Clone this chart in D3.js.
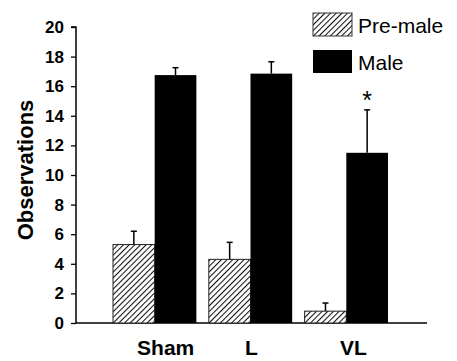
<!DOCTYPE html>
<html><head><meta charset="utf-8">
<script src="https://cdn.jsdelivr.net/npm/d3@7"></script>
<style>body{margin:0;background:#fff}svg{display:block}text{font-family:Arial,"Liberation Sans",sans-serif}</style>
</head><body>
<script>
const categories = ["Sham", "L", "VL"];
const seriesNames = ["Pre-male", "Male"];
const preMale = [5.3, 4.3, 0.8];
const preMaleErr = [0.9, 1.15, 0.55];
const male = [16.75, 16.85, 11.5];
const maleErr = [0.5, 0.8, 2.9];
const significance = ["", "", "*"];
const yTicks = [0, 2, 4, 6, 8, 10, 12, 14, 16, 18, 20];

const W = 457, H = 361;
const svg = d3.select("body").append("svg").attr("width", W).attr("height", H);

const defs = svg.append("defs");
const hs = 4;
const pat = defs.append("pattern").attr("id", "hatch").attr("patternUnits", "userSpaceOnUse")
  .attr("width", hs).attr("height", hs).attr("patternTransform", "rotate(45)");
pat.append("rect").attr("width", hs).attr("height", hs).attr("fill", "#fff");
pat.append("line").attr("x1", 0.5).attr("y1", 0).attr("x2", 0.5).attr("y2", hs)
  .attr("stroke", "#111").attr("stroke-width", 1.1);

const y = d3.scaleLinear().domain([0, 20]).range([323, 27]);
const x0 = d3.scaleBand().domain(categories).range([113, 388]).paddingInner(0.13).paddingOuter(0.0);
const x1 = d3.scaleBand().domain(seriesNames).range([0, x0.bandwidth()]);

// axes
const yAxis = d3.axisLeft(y).tickValues(yTicks).tickSize(5).tickPadding(7);
const gy = svg.append("g").attr("transform", "translate(76,0)").call(yAxis)
  .attr("font-size", null).attr("font-family", null);
gy.select(".domain").attr("stroke", "#000").attr("stroke-width", 1.5).attr("d", `M-5,${y(20)}H0V${y(0)}`);
gy.selectAll(".tick line").attr("stroke", "#000").attr("stroke-width", 1.3);
gy.selectAll(".tick text")
  .style("font-size", "17px").style("font-weight", "bold").style("fill", "#000")
  .style("font-family", "Arial, 'Liberation Sans', sans-serif");

// baseline
svg.append("line").attr("x1", 76).attr("x2", 427).attr("y1", y(0)).attr("y2", y(0))
  .attr("stroke", "#000").attr("stroke-width", 1.5);

const groups = svg.append("g").selectAll("g").data(categories).join("g")
  .attr("transform", d => `translate(${x0(d)},0)`);

const seriesData = [
  {name: "Pre-male", vals: preMale, errs: preMaleErr},
  {name: "Male", vals: male, errs: maleErr}
];

seriesData.forEach(s => {
  groups.append("rect")
    .attr("x", x1(s.name))
    .attr("width", x1.bandwidth())
    .attr("y", (d, i) => y(s.vals[i]))
    .attr("height", (d, i) => y(0) - y(s.vals[i]))
    .attr("fill", s.name === "Male" ? "#000" : "url(#hatch)")
    .attr("stroke", s.name === "Male" ? "none" : "#222")
    .attr("stroke-width", 1);
  const cx = x1(s.name) + x1.bandwidth() / 2;
  groups.append("line")
    .attr("x1", cx).attr("x2", cx)
    .attr("y1", (d, i) => y(s.vals[i]))
    .attr("y2", (d, i) => y(s.vals[i] + s.errs[i]))
    .attr("stroke", "#000").attr("stroke-width", 1.5);
  groups.append("line")
    .attr("x1", cx - 3).attr("x2", cx + 3)
    .attr("y1", (d, i) => y(s.vals[i] + s.errs[i]))
    .attr("y2", (d, i) => y(s.vals[i] + s.errs[i]))
    .attr("stroke", "#000").attr("stroke-width", 1.5);
});

// significance
groups.append("text")
  .attr("x", x1("Male") + x1.bandwidth() / 2)
  .attr("y", (d, i) => y(male[i] + maleErr[i]) - 1)
  .attr("text-anchor", "middle").attr("font-size", 25).attr("fill", "#000")
  .text((d, i) => significance[i]);

// x labels (small per-label nudges to match the original typesetting)
const labelNudge = [11, 1, 7];
svg.append("g").selectAll("text").data(categories).join("text")
  .attr("x", (d, i) => x0(d) + x0.bandwidth() / 2 + labelNudge[i])
  .attr("y", 355)
  .attr("text-anchor", "middle").attr("font-size", 21).attr("font-weight", "bold").attr("fill", "#000")
  .text(d => d);

// y label
svg.append("text").attr("transform", "translate(33,170) rotate(-90)")
  .attr("text-anchor", "middle").attr("font-size", 22).attr("font-weight", "bold").attr("fill", "#000")
  .text("Observations");

// legend
const leg = svg.append("g").selectAll("g").data(seriesNames).join("g")
  .attr("transform", (d, i) => `translate(313,${13 + i * 37})`);
leg.append("rect").attr("width", 39).attr("height", 23)
  .attr("fill", d => d === "Male" ? "#000" : "url(#hatch)")
  .attr("stroke", d => d === "Male" ? "none" : "#333").attr("stroke-width", 1);
leg.append("text").attr("x", 45).attr("y", 20).attr("font-size", 21).attr("fill", "#000").text(d => d);
</script>
</body></html>
